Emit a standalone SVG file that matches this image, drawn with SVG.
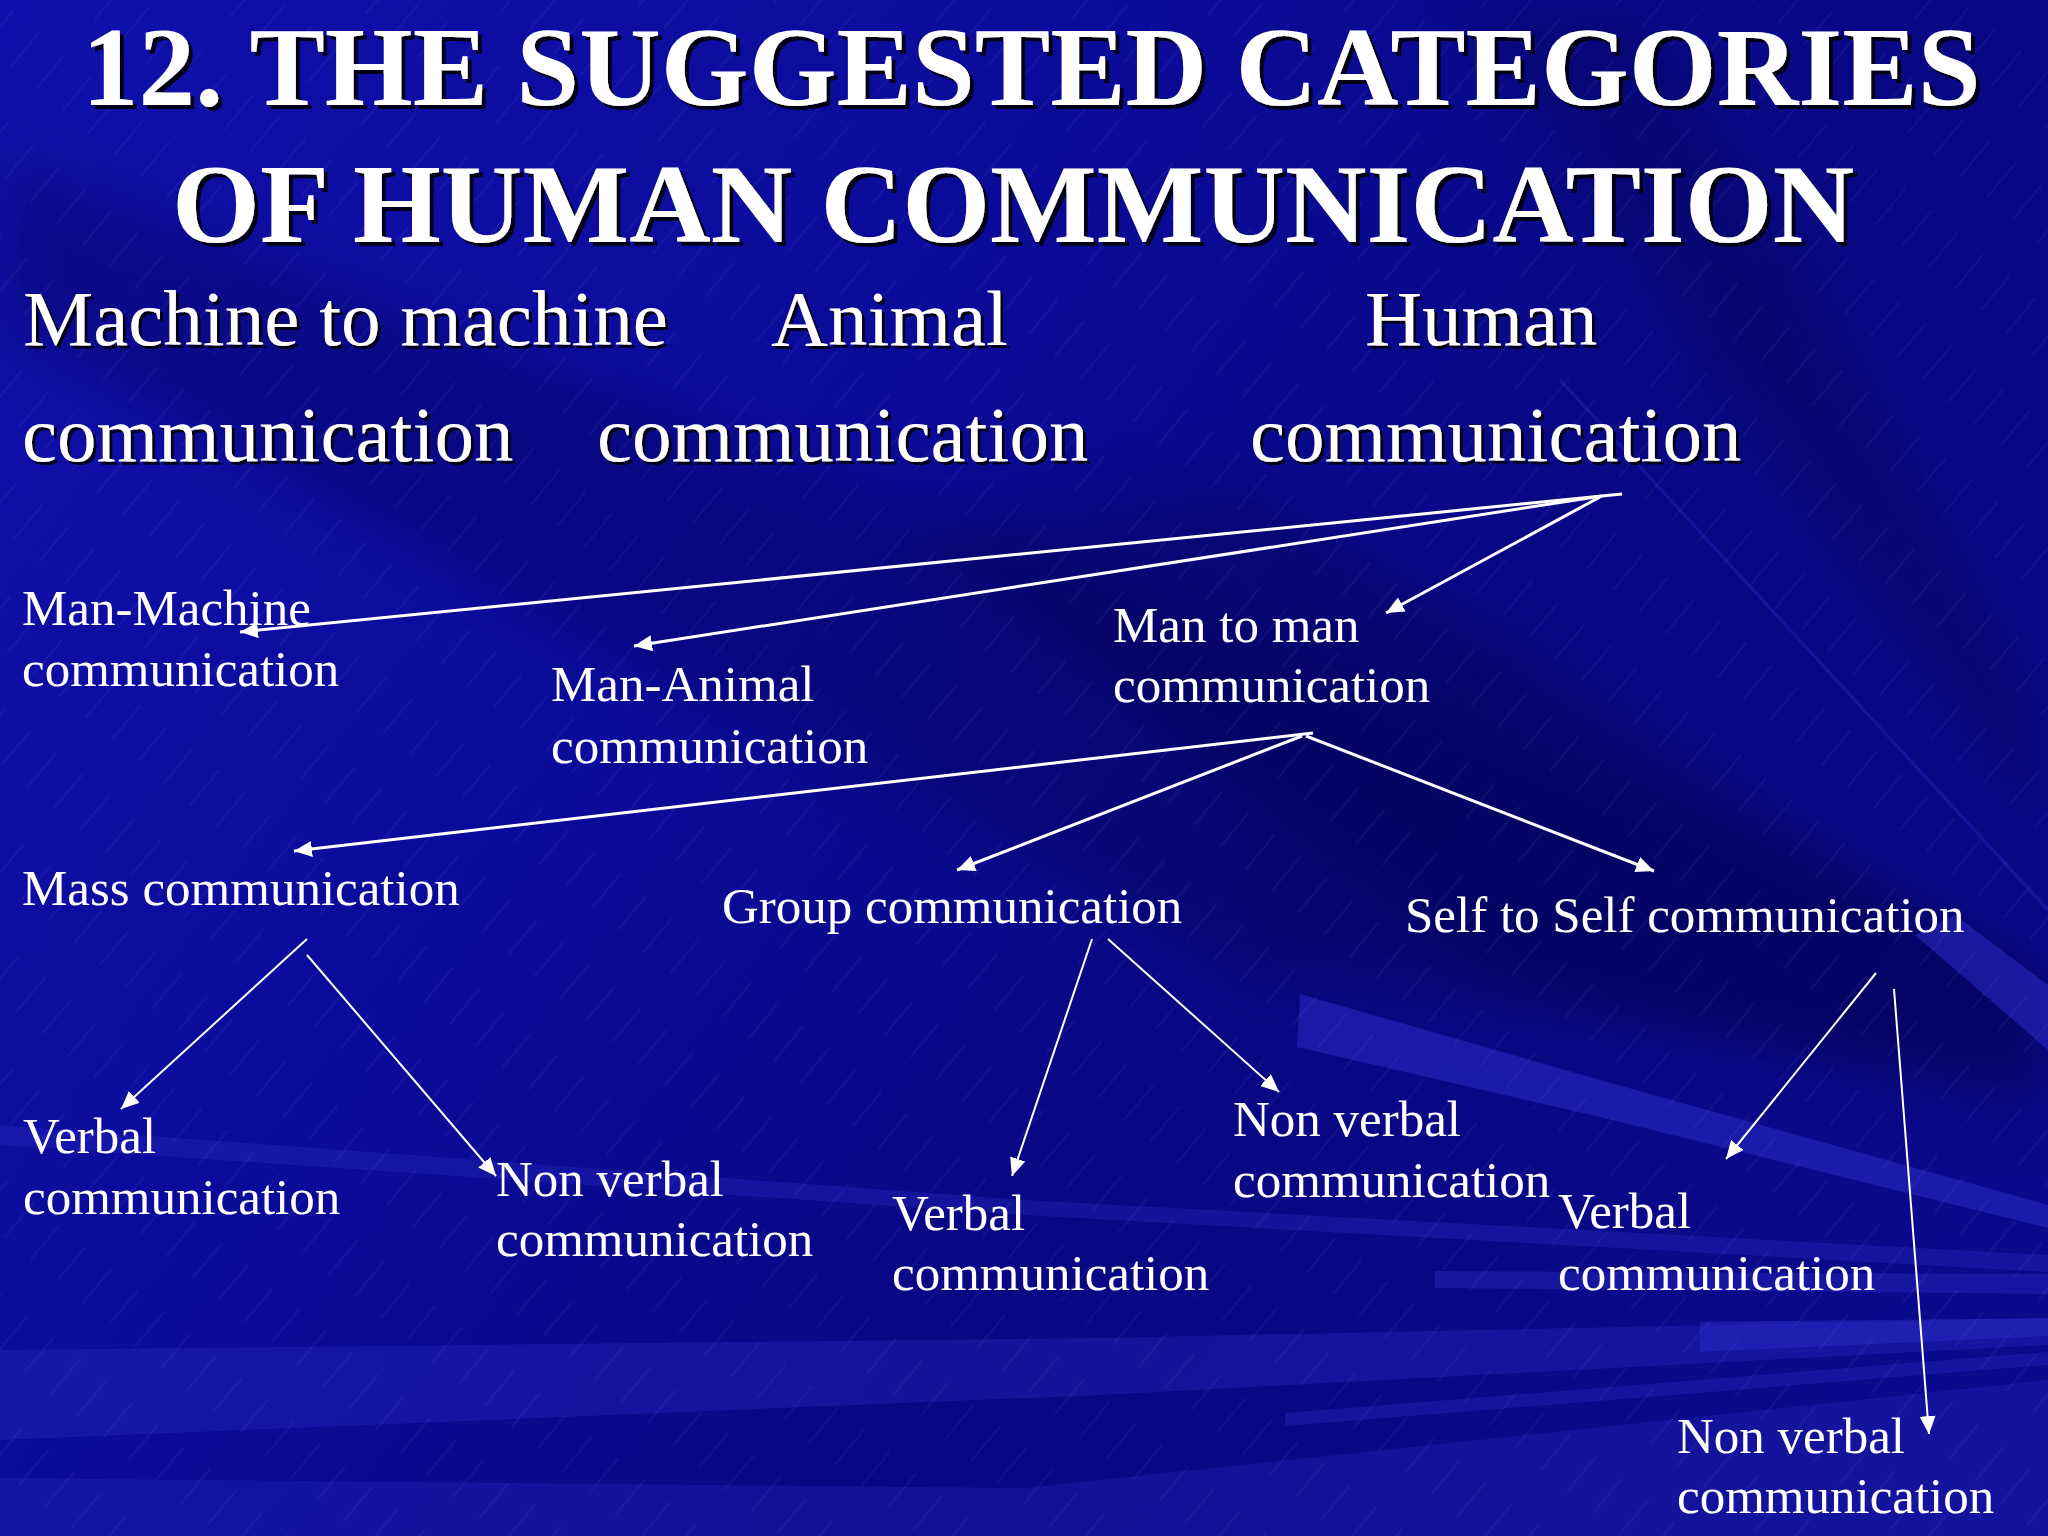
<svg xmlns="http://www.w3.org/2000/svg" width="2048" height="1536" viewBox="0 0 2048 1536">
<defs>
<linearGradient id="bg" gradientUnits="userSpaceOnUse" x1="0" y1="0" x2="2048" y2="1536">
<stop offset="0" stop-color="#1010ac"/>
<stop offset="0.35" stop-color="#0b0b9a"/>
<stop offset="0.62" stop-color="#080884"/>
<stop offset="1" stop-color="#0a0a8e"/>
</linearGradient>
<pattern id="hatch" patternUnits="userSpaceOnUse" width="34" height="90" patternTransform="rotate(40)">
<line x1="17" y1="0" x2="17" y2="45" stroke="#9a9aff" stroke-width="1" stroke-opacity="0.13"/>
</pattern>
<filter id="soft" x="-10%" y="-10%" width="120%" height="120%">
<feGaussianBlur stdDeviation="28"/>
</filter>
<filter id="sh" x="-5%" y="-20%" width="110%" height="140%">
<feDropShadow dx="4" dy="4" stdDeviation="0.6" flood-color="#000018" flood-opacity="1"/>
</filter>
<filter id="sh2" x="-5%" y="-20%" width="110%" height="140%">
<feDropShadow dx="3" dy="3" stdDeviation="0.6" flood-color="#000018" flood-opacity="1"/>
</filter>
<marker id="ah" markerWidth="20" markerHeight="16" refX="18" refY="8" orient="auto" markerUnits="userSpaceOnUse">
<path d="M0,0 L18,8 L0,16 z" fill="#ffffff"/>
</marker>
<style>
.title{font-family:"Liberation Serif","Times New Roman",serif;font-weight:bold;font-size:113px;fill:#ffffff}
.cat{font-family:"Liberation Serif","Times New Roman",serif;font-size:79px;fill:#ffffff}
.lbl{font-family:"Liberation Serif","Times New Roman",serif;font-size:51px;fill:#ffffff}
.dk{fill:#02024a}
.lt{fill:#2a2ac4}
.c1{stroke:#ffffff;stroke-width:3;fill:none;marker-end:url(#ah)}
.c2{stroke:#ffffff;stroke-width:2;fill:none;marker-end:url(#ah)}
</style>
</defs>
<g id="background">
<rect width="2048" height="1536" fill="url(#bg)"/>
<g filter="url(#soft)">
<polygon class="dk" opacity="0.3" points="0,150 0,330 1250,980 2048,1080 2048,960"/>
<polygon class="dk" opacity="0.35" points="900,520 1250,480 2048,980 2048,1120 1500,980"/>
<polygon class="dk" opacity="0.3" points="1450,0 1650,0 2048,700 2048,860"/>
</g>
<polygon class="lt" opacity="0.55" points="1300,994 1600,1080 2048,1205 2048,1228 1600,1117 1297,1047"/>
<polygon class="lt" opacity="0.35" points="0,1125 1024,1200 2048,1255 2048,1272 1024,1215 0,1145"/>
<polygon class="lt" opacity="0.35" points="0,1350 1100,1338 2048,1318 2048,1345 1100,1395 0,1440"/>
<polygon class="lt" opacity="0.3" points="0,1478 1024,1488 2048,1380 2048,1536 0,1536"/>
<polygon class="lt" opacity="0.5" points="1700,1322 2048,1318 2048,1336 1700,1352"/>
<polygon class="lt" opacity="0.4" points="1435,1271 2048,1274 2048,1294 1435,1288"/>
<polygon class="lt" opacity="0.55" points="1915,935 1955,915 2048,985 2048,1050"/>
<polygon class="lt" opacity="0.35" points="1285,1413 2048,1352 2048,1365 1285,1426"/>
<line x1="1560" y1="380" x2="2048" y2="910" stroke="#3030d0" stroke-width="3" opacity="0.3"/>
<rect width="2048" height="1536" fill="url(#hatch)"/>
</g>
<g id="title" filter="url(#sh)">
<text class="title" x="82" y="105">12. THE SUGGESTED CATEGORIES</text>
<text class="title" x="172" y="242">OF HUMAN COMMUNICATION</text>
</g>
<g id="machine-to-machine" filter="url(#sh2)">
<text class="cat" x="23" y="345">Machine to machine</text>
<text class="cat" x="22" y="461">communication</text>
</g>
<g id="animal" filter="url(#sh2)">
<text class="cat" x="771" y="345">Animal</text>
<text class="cat" x="597" y="461">communication</text>
</g>
<g id="human" filter="url(#sh2)">
<text class="cat" x="1365" y="345">Human</text>
<text class="cat" x="1250" y="461">communication</text>
</g>
<g id="man-machine">
<text class="lbl" x="22" y="625">Man-Machine</text>
<text class="lbl" x="22" y="686">communication</text>
</g>
<g id="man-animal">
<text class="lbl" x="551" y="701">Man-Animal</text>
<text class="lbl" x="551" y="763">communication</text>
</g>
<g id="man-to-man">
<text class="lbl" x="1113" y="642">Man to man</text>
<text class="lbl" x="1113" y="702">communication</text>
</g>
<g id="mass">
<text class="lbl" x="22" y="905">Mass communication</text>
</g>
<g id="group">
<text class="lbl" x="722" y="923">Group communication</text>
</g>
<g id="self">
<text class="lbl" x="1405" y="932">Self to Self communication</text>
</g>
<g id="mass-verbal">
<text class="lbl" x="23" y="1153">Verbal</text>
<text class="lbl" x="23" y="1214">communication</text>
</g>
<g id="mass-nonverbal">
<text class="lbl" x="496" y="1196">Non verbal</text>
<text class="lbl" x="496" y="1256">communication</text>
</g>
<g id="group-verbal">
<text class="lbl" x="892" y="1230">Verbal</text>
<text class="lbl" x="892" y="1290">communication</text>
</g>
<g id="group-nonverbal">
<text class="lbl" x="1233" y="1136">Non verbal</text>
<text class="lbl" x="1233" y="1197">communication</text>
</g>
<g id="self-verbal">
<text class="lbl" x="1558" y="1228">Verbal</text>
<text class="lbl" x="1558" y="1290">communication</text>
</g>
<g id="self-nonverbal">
<text class="lbl" x="1677" y="1453">Non verbal</text>
<text class="lbl" x="1677" y="1513">communication</text>
</g>
<g id="connectors">
<path class="c1" d="M1622,494 L240,632"/>
<path class="c1" d="M1602,496 L634,646"/>
<path class="c1" d="M1600,497 L1386,613"/>
<path class="c1" d="M1313,733 L294,851"/>
<path class="c1" d="M1302,736 L957,870"/>
<path class="c1" d="M1306,736 L1654,871"/>
<path class="c2" d="M307,939 L121,1109"/>
<path class="c2" d="M307,955 L496,1176"/>
<path class="c2" d="M1092,939 L1012,1176"/>
<path class="c2" d="M1108,939 L1279,1092"/>
<path class="c2" d="M1876,973 L1726,1159"/>
<path class="c2" d="M1894,989 L1929,1434"/>
</g>
</svg>
